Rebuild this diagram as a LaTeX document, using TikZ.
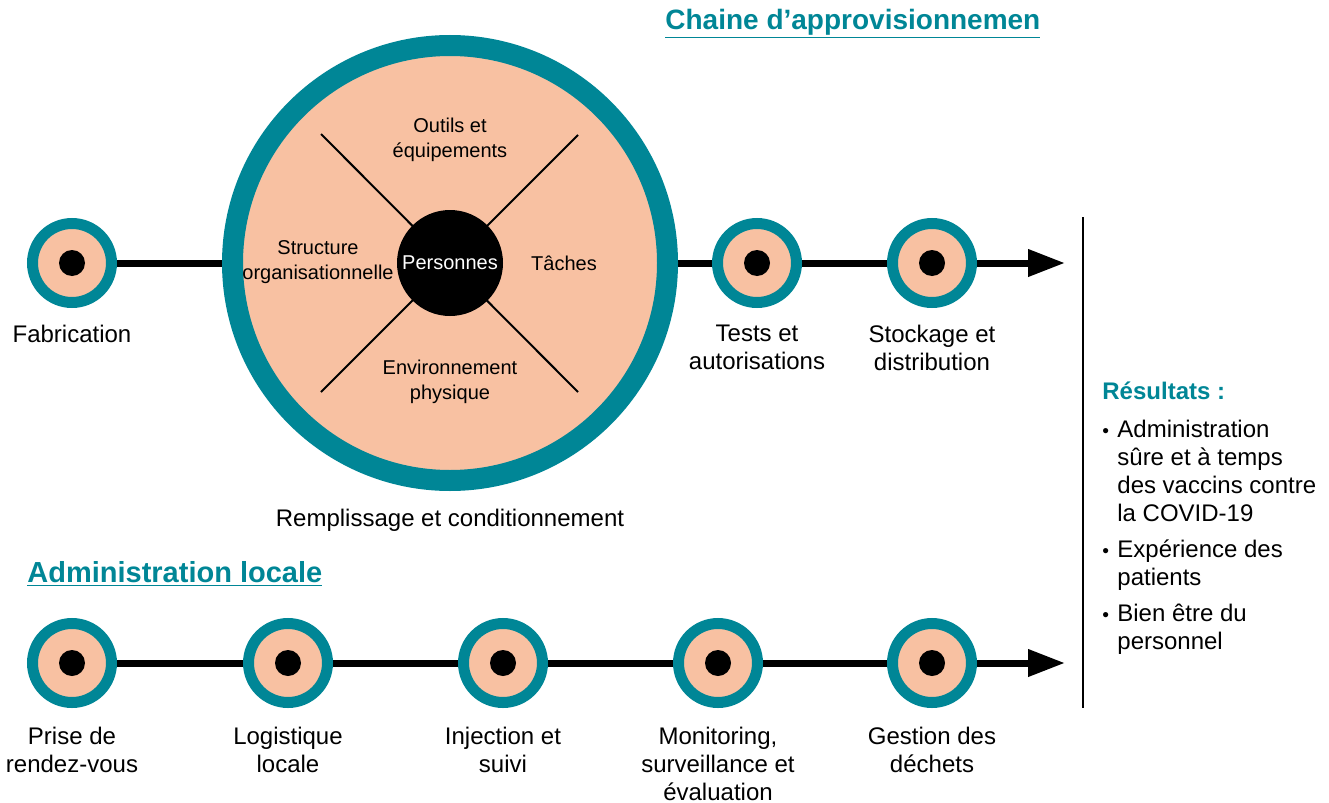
\documentclass[tikz,border=0pt]{standalone}
\usepackage{fontspec}
\setmainfont{Liberation Sans}
\usetikzlibrary{positioning,arrows.meta,calc,backgrounds}
\definecolor{petrol}{RGB}{0,134,150}
\definecolor{peach}{RGB}{248,193,162}
\tikzset{
  stage/.style={circle, draw=petrol, fill=peach, line width=5.5pt, minimum size=39.5pt, inner sep=0pt,
    path picture={\fill[black] (path picture bounding box.center) circle (6.5pt);}},
  hub/.style={circle, draw=petrol, fill=peach, line width=10.5pt, minimum size=217.5pt, inner sep=0pt},
  core/.style={circle, fill=black, text=white, minimum size=53pt, inner sep=0pt, font=\fontsize{10}{12}\selectfont},
  part/.style={align=center, inner sep=0pt, font=\fontsize{10}{12.5}\selectfont},
  lbl/.style={align=center, inner sep=0pt, font=\fontsize{12}{14}\selectfont},
  ttl/.style={inner sep=0pt, text=petrol, font=\fontsize{14}{16}\selectfont\bfseries},
  rhd/.style={inner sep=0pt, text=petrol, font=\fontsize{12}{14}\selectfont\bfseries},
  flow/.style={line width=3.5pt},
  fa/.style={flow, -{Triangle[length=18.5pt,width=13pt]}},
  spoke/.style={line width=1pt},
}
\newcommand{\bul}{\makebox[7.5pt][l]{\scalebox{0.8}{\textbullet}}}
\newcommand{\ind}{\hspace*{7.5pt}}

\begin{document}
\begin{tikzpicture}[x=0.5pt, y=-0.5pt]
\useasboundingbox (0,0) rectangle (1329,803);
% supply chain
\node[ttl, anchor=base west] (chain) at (665,29) {\underline{Chaine d’approvisionnemen}};
\node[stage] (fab) at (72,263) {};
\node[hub] (big) at (450,263) {};
\draw[spoke] ($(big.center)+(-129,-129)$) -- ($(big.center)+(128,129)$);
\draw[spoke] ($(big.center)+(128,-128)$) -- ($(big.center)+(-129,129)$);
\node[core] (pers) at (big.center) {Personnes};
\node[part] (tools) at ($(big.center)+(0,-123)$) {Outils et\\équipements};
\node[part] (org) at ($(big.center)+(-132,-1)$) {Structure\\organisationnelle};
\node[part] (task) at ($(big.center)+(114,0)$) {Tâches};
\node[part] (env) at ($(big.center)+(0,119)$) {Environnement\\physique};
\node[stage] (tests) at (757,263) {};
\node[stage] (stock) at (932,263) {};
\coordinate (end1) at (1065,263);
\node[lbl, below=8.5pt of fab] (fabl) {Fabrication};
\node[lbl, below=9pt of big] (filll) {Remplissage et conditionnement};
\node[lbl, below=8.5pt of tests] (testsl) {Tests et\\autorisations};
\node[lbl, below=8.5pt of stock] (stockl) {Stockage et\\distribution};
% local administration
\node[ttl, font=\fontsize{14.5}{16}\selectfont\bfseries, anchor=base west] (admin) at (27,582) {\underline{Administration locale}};
\node[stage] (book) at (72,663) {};
\node[stage] (logi) at (288,663) {};
\node[stage] (inj) at (503,663) {};
\node[stage] (mon) at (718,663) {};
\node[stage] (waste) at (932,663) {};
\coordinate (end2) at (1065,663);
\node[lbl, below=9.5pt of book] (bookl) {Prise de\\rendez-vous};
\node[lbl, below=9.5pt of logi] (logil) {Logistique\\locale};
\node[lbl, below=9.5pt of inj] (injl) {Injection et\\suivi};
\node[lbl, below=9.5pt of mon] (monl) {Monitoring,\\surveillance et\\évaluation};
\node[lbl, below=9.5pt of waste] (wastel) {Gestion des\\déchets};
\begin{scope}[on background layer]
\draw[flow] (fab.center) -- (big.center);
\draw[flow] (big.center) -- (tests.center) -- (stock.center);
\draw[fa] (stock.center) -- (end1);
\draw[flow] (book.center) -- (logi.center) -- (inj.center) -- (mon.center) -- (waste.center);
\draw[fa] (waste.center) -- (end2);
\end{scope}
% results
\coordinate (vtop) at (1083,217);
\coordinate (vbot) at (1083,708);
\draw[line width=0.7pt] (vtop) -- (vbot);
\node[rhd, anchor=west] (res) at (1102,391) {Résultats :};
\node[lbl, align=left, anchor=north west] (items) at (1102,420)
  {\bul Administration\\\ind sûre et à temps\\\ind des vaccins contre\\\ind la COVID-19\\[4pt]
   \bul Expérience des\\\ind patients\\[4pt]
   \bul Bien être du\\\ind personnel};
\end{tikzpicture}
\end{document}
